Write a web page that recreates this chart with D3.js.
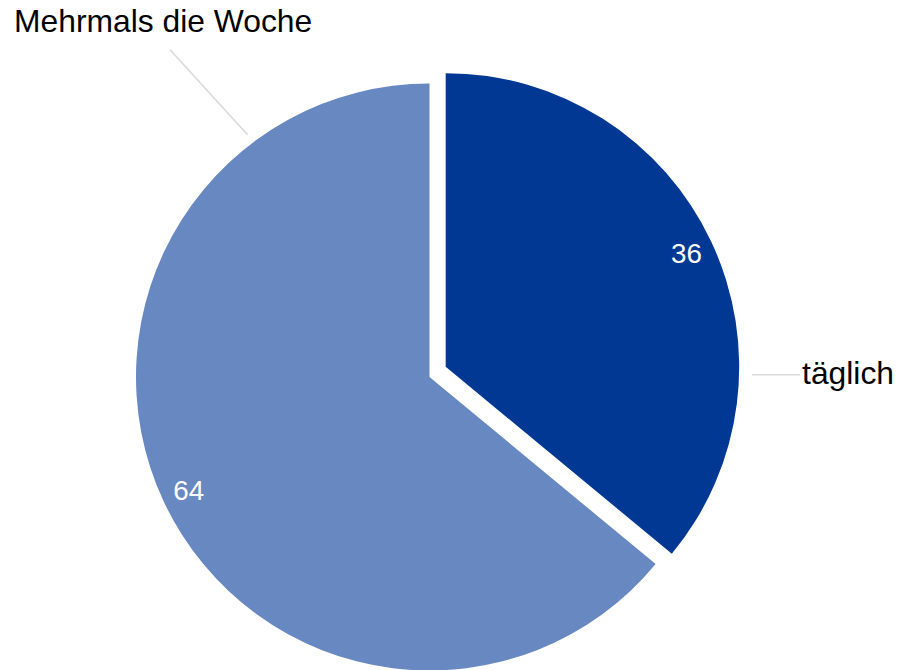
<!DOCTYPE html>
<html>
<head>
<meta charset="utf-8">
<script src="https://cdn.jsdelivr.net/npm/d3@7"></script>
<style>
  html, body { margin: 0; padding: 0; background: #ffffff; }
  svg { display: block; font-family: "Liberation Sans", Arial, sans-serif; }
</style>
</head>
<body>
<svg id="chart" width="899" height="670"></svg>
<script>
// Häufigkeit (Anteile in %)
const categories = ["täglich", "Mehrmals die Woche"];
const values = [36, 64];
const colors = ["#003894", "#6788c0"];
const exploded = [true, false];

const width = 899, height = 670;
const cx = 429.5, cy = 377, radius = 293.5;
// pulled-out slice: distance and direction (degrees clockwise from 12 o'clock)
const explodeDist = 19.2, explodeAngle = 57.5;

const svg = d3.select("#chart");
const g = svg.append("g").attr("transform", `translate(${cx},${cy})`);

const pie = d3.pie().sort(null).value(d => d.value).startAngle(0).endAngle(2 * Math.PI);
const arcs = pie(categories.map((c, i) => ({ name: c, value: values[i], color: colors[i], exploded: exploded[i] })));

const arc = d3.arc().innerRadius(0).outerRadius(radius);

// polar helper: angle measured clockwise from 12 o'clock
const polar = (a, r) => [Math.sin(a) * r, -Math.cos(a) * r];
const offsetOf = d => d.data.exploded ? polar(explodeAngle * Math.PI / 180, explodeDist) : [0, 0];

const slices = g.selectAll("g.slice")
  .data(arcs)
  .join("g")
  .attr("class", "slice")
  .attr("transform", d => `translate(${offsetOf(d)})`);

slices.append("path")
  .attr("d", arc)
  .attr("fill", d => d.data.color);

// value labels inside the slices
const labelArc = d3.arc().innerRadius(radius * 0.907).outerRadius(radius * 0.907);
slices.append("text")
  .attr("transform", d => `translate(${labelArc.centroid(d)})`)
  .attr("text-anchor", "middle")
  .attr("dy", "0.36em")
  .attr("fill", "#ffffff")
  .attr("font-size", 27.8)
  .text(d => d.data.value);

// category labels with leader lines
const leaderSpec = {
  "täglich": { angle: 91.5, gap: 13, end: [48, 0], textOff: [2, 9.7] },
  "Mehrmals die Woche": { angle: 323.1, gap: 9.5, end: [-77.5, -85], textOff: [-156, -18] }
};

arcs.forEach(d => {
  const spec = leaderSpec[d.data.name];
  const a = spec.angle * Math.PI / 180;
  const [ox, oy] = offsetOf(d);
  const [sx, sy] = polar(a, radius + spec.gap);
  const x0 = sx + ox, y0 = sy + oy;
  const x1 = x0 + spec.end[0], y1 = y0 + spec.end[1];
  g.append("line")
    .attr("x1", x0).attr("y1", y0)
    .attr("x2", x1).attr("y2", y1)
    .attr("stroke", "#d9d9d9")
    .attr("stroke-width", 1.5);
  g.append("text")
    .attr("x", x1 + spec.textOff[0])
    .attr("y", y1 + spec.textOff[1])
    .attr("text-anchor", "start")
    .attr("fill", "#000000")
    .attr("font-size", 31.8)
    .text(d.data.name);
});
</script>
</body>
</html>
